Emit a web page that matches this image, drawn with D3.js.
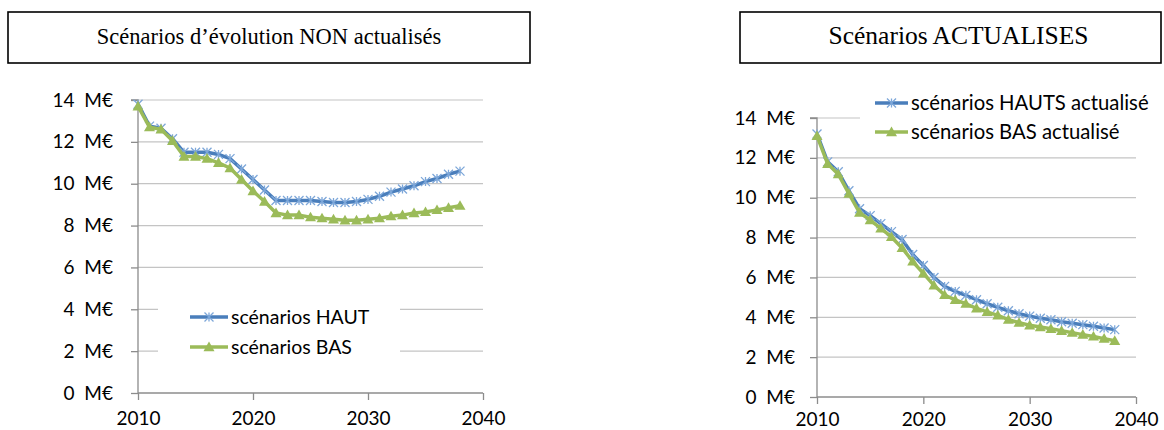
<!DOCTYPE html>
<html><head><meta charset="utf-8">
<script src="https://cdn.jsdelivr.net/npm/d3@7"></script>
<style>
html,body{margin:0;padding:0;background:#fff;}
svg{display:block;}
</style></head>
<body>
<svg id="chart" width="1164" height="430"></svg>
<script>
const years = d3.range(2010, 2039);
const yTicks = [0, 2, 4, 6, 8, 10, 12, 14];
const xTicks = [2010, 2020, 2030, 2040];

const titleLeft = "Scénarios d’évolution NON actualisés";
const titleRight = "Scénarios ACTUALISES";

const hautLabel = "scénarios HAUT";
const basLabel = "scénarios BAS";
const hautActLabel = "scénarios HAUTS actualisé";
const basActLabel = "scénarios BAS actualisé";

const haut = [13.8,12.75,12.65,12.15,11.5,11.5,11.5,11.4,11.2,10.7,10.2,9.7,9.2,9.2,9.2,9.2,9.15,9.1,9.1,9.15,9.25,9.4,9.6,9.75,9.9,10.1,10.25,10.45,10.6];
const bas = [13.7,12.7,12.6,12.05,11.3,11.3,11.2,11.0,10.75,10.2,9.65,9.15,8.6,8.5,8.5,8.4,8.35,8.3,8.25,8.25,8.3,8.35,8.45,8.5,8.6,8.65,8.75,8.85,8.95];
const hautAct = [13.2,11.8,11.3,10.35,9.45,9.1,8.7,8.3,7.9,7.15,6.6,6.0,5.55,5.3,5.1,4.88,4.68,4.5,4.33,4.18,4.06,3.95,3.88,3.78,3.7,3.63,3.55,3.46,3.38];
const basAct = [13.1,11.7,11.18,10.2,9.25,8.88,8.46,8.03,7.48,6.8,6.2,5.6,5.12,4.87,4.68,4.45,4.27,4.1,3.88,3.73,3.6,3.51,3.42,3.32,3.23,3.13,3.04,2.93,2.82];

const BLUE = "#4a7ebb", BLUE_M = "#7da7d9", GREEN = "#9bbb59";
const svg = d3.select("#chart");

function titleBox(x, y, w, h, text, fs, dx) {
  svg.append("rect").attr("x", x).attr("y", y).attr("width", w).attr("height", h)
    .attr("fill", "#fff").attr("stroke", "#000").attr("stroke-width", 1.6);
  svg.append("text").attr("x", x + w / 2 + dx).attr("y", y + h / 2 + 6.5)
    .attr("text-anchor", "middle").attr("font-family", "Liberation Serif, Times New Roman, serif")
    .attr("font-size", fs).attr("fill", "#000").text(text);
}

function star(g, x, y) {
  const s = 4.5;
  g.append("path").attr("d", `M${x - s},${y - s}L${x + s},${y + s}M${x - s},${y + s}L${x + s},${y - s}M${x},${y - s}L${x},${y + s}`)
    .attr("stroke", BLUE_M).attr("stroke-width", 1.3).attr("fill", "none");
}
function tri(g, x, y) {
  const s = 5.5;
  g.append("path").attr("d", `M${x},${y - s}L${x + s},${y + s * 0.75}L${x - s},${y + s * 0.75}Z`)
    .attr("fill", GREEN);
}

function drawChart(cfg) {
  const x = d3.scaleLinear().domain([2010, 2040]).range([cfg.x0, cfg.x1]);
  const y = d3.scaleLinear().domain([0, 14]).range([cfg.y0, cfg.y1]);
  const g = svg.append("g");

  g.append("g").selectAll("line").data(yTicks.filter(d => d > 0)).join("line")
    .attr("x1", cfg.x0).attr("x2", cfg.x1).attr("y1", d => y(d)).attr("y2", d => y(d))
    .attr("stroke", "#c4c4c4").attr("stroke-width", 1.2);

  g.append("rect").attr("x", cfg.leg.bx).attr("y", cfg.leg.by).attr("width", cfg.leg.bw).attr("height", cfg.leg.bh).attr("fill", "#fff");

  const ya = d3.axisLeft(y).tickValues(yTicks).tickSize(7).tickPadding(cfg.ypad).tickFormat(d => d + "\u00a0 M€");
  const yg = g.append("g").attr("transform", `translate(${cfg.x0},0)`).call(ya);
  yg.select(".domain").attr("stroke", "#8c8c8c").attr("stroke-width", 1.3).attr("d", `M-7,${cfg.y1}H0V${cfg.y0}`);
  yg.selectAll(".tick line").attr("stroke", "#8c8c8c").attr("stroke-width", 1.3);
  yg.selectAll(".tick text").attr("font-family", "Lato, Carlito, sans-serif").attr("font-size", cfg.fs).attr("fill", "#000");

  const xa = d3.axisBottom(x).tickValues(xTicks).tickSize(7).tickPadding(cfg.xpad).tickFormat(d3.format("d"));
  const xg = g.append("g").attr("transform", `translate(0,${cfg.y0})`).call(xa);
  xg.select(".domain").attr("stroke", "#8c8c8c").attr("stroke-width", 1.3).attr("d", `M${cfg.x0},0H${cfg.x1}`);
  xg.selectAll(".tick line").attr("stroke", "#8c8c8c").attr("stroke-width", 1.3);
  xg.selectAll(".tick text").attr("font-family", "Lato, Carlito, sans-serif").attr("font-size", cfg.fs).attr("fill", "#000");

  const line = d3.line().x((d, i) => x(years[i])).y(d => y(d));
  g.append("path").datum(cfg.s1).attr("d", line).attr("fill", "none").attr("stroke", BLUE).attr("stroke-width", 3.5).attr("stroke-linejoin", "round");
  cfg.s1.forEach((v, i) => star(g, x(years[i]), y(v)));
  g.append("path").datum(cfg.s2).attr("d", line).attr("fill", "none").attr("stroke", GREEN).attr("stroke-width", 3.5).attr("stroke-linejoin", "round");
  cfg.s2.forEach((v, i) => tri(g, x(years[i]), y(v)));

  const L = cfg.leg;
  [[cfg.l1, BLUE, star], [cfg.l2, GREEN, tri]].forEach(([lab, col, mk], k) => {
    const yy = L.ly[k];
    g.append("line").attr("x1", L.lx0).attr("x2", L.lx1).attr("y1", yy).attr("y2", yy).attr("stroke", col).attr("stroke-width", 3.5);
    mk(g, (L.lx0 + L.lx1) / 2, yy);
    g.append("text").attr("x", L.tx).attr("y", yy + 7).attr("font-family", "Lato, Carlito, sans-serif")
      .attr("font-size", L.fs).attr("fill", "#000").text(lab);
  });
}

titleBox(8, 12, 522, 51, titleLeft, 22.5, 0);
titleBox(740, 12, 421, 51, titleRight, 25.5, 8);

drawChart({
  x0: 138, x1: 483, y0: 393, y1: 100, fs: 19, ypad: 18, xpad: 12,
  s1: haut, s2: bas, l1: hautLabel, l2: basLabel,
  leg: { bx: 158, by: 300, bw: 242, bh: 62, lx0: 190, lx1: 228, ly: [317, 347], tx: 231, fs: 19.5 }
});
drawChart({
  x0: 817, x1: 1136, y0: 397, y1: 118, fs: 19, ypad: 15, xpad: 9,
  s1: hautAct, s2: basAct, l1: hautActLabel, l2: basActLabel,
  leg: { bx: 860, by: 88, bw: 300, bh: 56, lx0: 875, lx1: 908, ly: [103, 132], tx: 911, fs: 20.3 }
});
</script>
</body></html>
